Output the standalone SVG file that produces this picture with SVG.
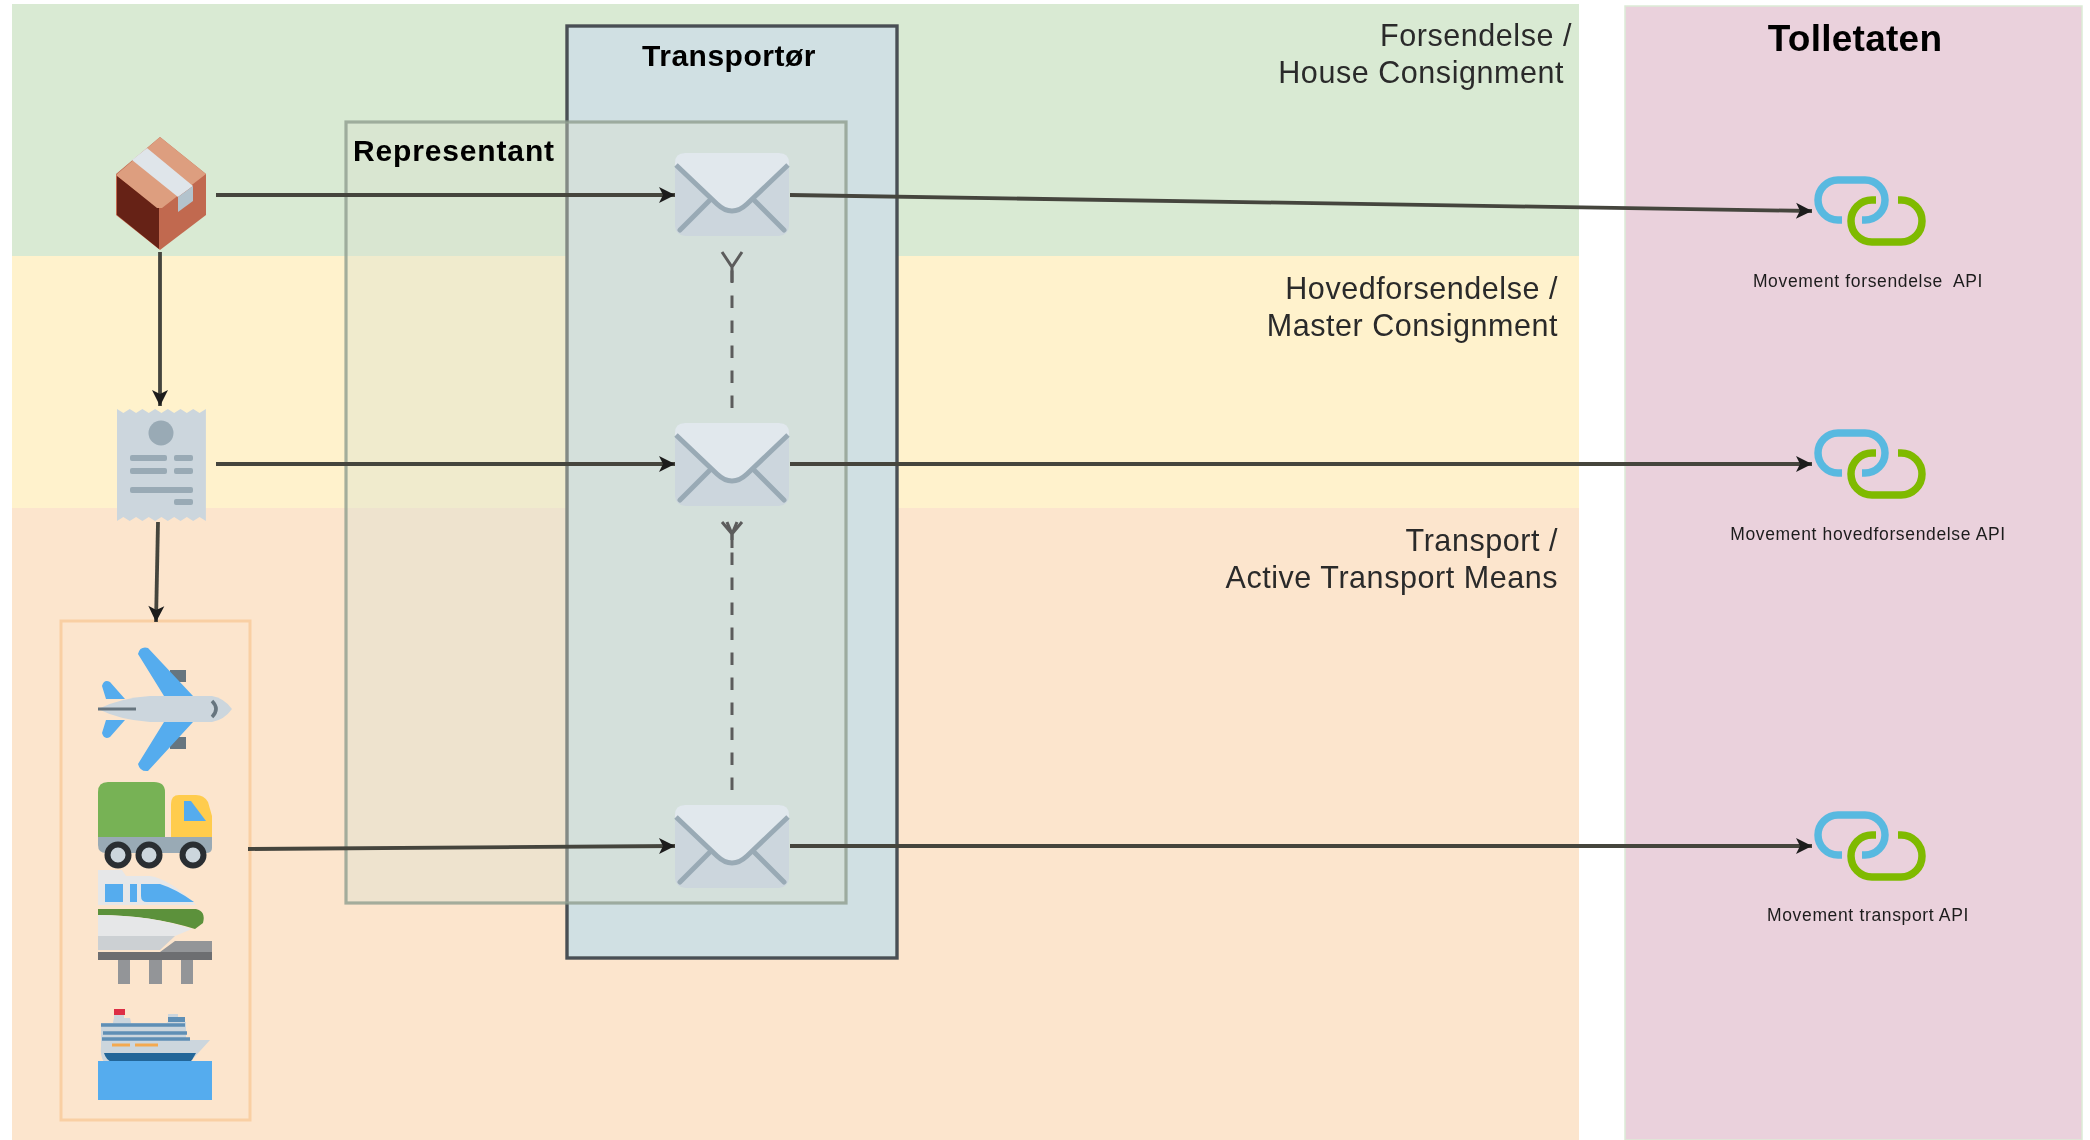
<svg xmlns="http://www.w3.org/2000/svg" width="2090" height="1140" viewBox="0 0 2090 1140">
<style>
text{font-family:"Liberation Sans",Arial,sans-serif;white-space:pre}
.lane{font-size:30.5px;fill:#2b2b2b;text-anchor:end;letter-spacing:.55px}
.api{font-size:17.5px;fill:#1c1c1c;text-anchor:middle;letter-spacing:.65px}
.bold{font-weight:bold;fill:#000}
.con{fill:none;stroke:#45453e;stroke-width:3.8}
.dash{fill:none;stroke:#5c5c5c;stroke-width:3;stroke-dasharray:12.5 12.5}
.open{fill:none;stroke:#5c5c5c;stroke-width:3}
</style>
<defs>
<filter id="soft" x="0" y="0" width="2090" height="1140" filterUnits="userSpaceOnUse"><feGaussianBlur stdDeviation="0.75"/></filter>
<marker id="arr" markerUnits="userSpaceOnUse" markerWidth="20" markerHeight="18" refX="17" refY="9" orient="auto"><path d="M1 1 L17 9 L1 17 L5 9Z" fill="#1c1c1c"/></marker>
<symbol id="env" width="114" height="84" viewBox="0 0 114 84" overflow="visible">
<rect x="0" y="0" width="114" height="83" rx="10" fill="#ccd6dd"/>
<path d="M0 10 Q0 0 10 0 H104 Q114 0 114 10 V13 L72 52 Q57 66 42 52 L0 13Z" fill="#e1e8ed"/>
<path d="M5 77 L34 48 M109 77 L80 48" stroke="#99aab5" stroke-width="5" fill="none" stroke-linecap="round"/>
<path d="M1 12 L42 51 Q57 65 72 51 L113 12" stroke="#99aab5" stroke-width="5" fill="none"/>
</symbol>
<symbol id="link" width="130" height="90" viewBox="1812 172 130 90" overflow="visible">
<path d="M1843 221 h-4 a20 20 0 0 1 0 -40 H1866 a20 20 0 0 1 0 40 h-3" fill="none" stroke="#59b9e0" stroke-width="7.5"/>
<path d="M1877 201 h-4 a21 21 0 0 0 0 42 H1902 a21 21 0 0 0 0 -42 h-3" fill="none" stroke="#7fba00" stroke-width="7.5"/>
</symbol>
</defs>
<rect width="2090" height="1140" fill="#fff"/>
<g filter="url(#soft)">
<g id="lanes">
<rect id="lane-forsendelse" x="12" y="4" width="1567" height="252" fill="#d9ead3"/>
<rect id="lane-hoved" x="12" y="256" width="1567" height="252" fill="#fff2cc"/>
<rect id="lane-transport" x="12" y="508" width="1567" height="632" fill="#fce5cd"/>
<rect id="tolletaten" x="1625" y="6" width="457" height="1134" fill="#ead1dc" stroke="#dcebd6" stroke-width="1.5"/>
</g>
<g id="transportor"><rect x="567" y="26" width="330" height="932" fill="#d0e0e3" stroke="#4a5054" stroke-width="3.4"/></g>
<g id="representant"><rect x="346" y="122" width="500" height="781" fill="#d9e2cf" fill-opacity=".4" stroke="#8e9e8e" stroke-opacity=".8" stroke-width="3.2"/></g>
<g id="vehicles-box"><rect x="61" y="621" width="189" height="499" fill="none" stroke="#f9cfa3" stroke-width="3"/></g>

<g id="connectors">
<path class="con" marker-end="url(#arr)" d="M216 195H675"/>
<path class="con" marker-end="url(#arr)" d="M160 252V406"/>
<path class="con" marker-end="url(#arr)" d="M216 464H675"/>
<path class="con" marker-end="url(#arr)" d="M158 522L156 622"/>
<path class="con" marker-end="url(#arr)" d="M248 849L675 846"/>
<path class="con" marker-end="url(#arr)" d="M790 195L1812 211"/>
<path class="con" marker-end="url(#arr)" d="M790 464H1812"/>
<path class="con" marker-end="url(#arr)" d="M790 846H1812"/>
<path class="dash" d="M732 408V267"/>
<path class="open" d="M722 252L732 267L742 252M732 267V282"/>
<path class="dash" d="M732 790V530"/>
<path class="open" d="M722 522L732 534L742 522M727 522L732 534L737 522M732 534V548"/>
</g>

<g id="package">
<path d="M160 137L206 174V215L160 250L116 215V174Z" fill="#c1694f"/>
<path d="M117 176L159 208V249L117 215Z" fill="#662113"/>
<path d="M160 137L206 174L162 208H157L116 175Z" fill="#dd9e7f"/>
<path d="M132 160L147 148L193 186L178 197Z" fill="#dfe5ea"/>
<path d="M178 197L193 186V201L178 212Z" fill="#b3c3cd"/>
</g>
<g id="receipt">
<path d="M117 409l6.35 4 6.35-4 6.35 4 6.35-4 6.35 4 6.35-4 6.35 4 6.35-4 6.35 4 6.35-4 6.35 4 6.35-4 6.35 4 6.35-4V521l-6.35-4-6.35 4-6.35-4-6.35 4-6.35-4-6.35 4-6.35-4-6.35 4-6.35-4-6.35 4-6.35-4-6.35 4-6.35-4-6.35 4Z" fill="#ccd6dd"/>
<circle cx="161" cy="433" r="12.5" fill="#99aab5"/>
<g fill="#99aab5"><rect x="130" y="455" width="37" height="6" rx="2"/><rect x="174" y="455" width="19" height="6" rx="2"/><rect x="130" y="468" width="37" height="6" rx="2"/><rect x="174" y="468" width="19" height="6" rx="2"/><rect x="130" y="487" width="63" height="6" rx="2"/><rect x="174" y="499" width="19" height="6" rx="2"/></g>
</g>
<g id="plane">
<path d="M170 670H186V682H170Z M170 737H186V749H170Z" fill="#66757f"/>
<path d="M138 654Q140 646 148 648L193 696H164Z M138 764Q140 772 148 771L193 722H164Z" fill="#55acee"/>
<path d="M102 686Q104 679 110 682L125 699H106Z M102 733Q104 740 110 737L125 720H106Z" fill="#55acee"/>
<path d="M98 709Q120 698 150 696H212Q224 698 232 709Q224 720 212 722H150Q120 720 98 709Z" fill="#ccd6dd"/>
<path d="M98 709H136" stroke="#66757f" stroke-width="3"/>
<path d="M212 701Q220 709 212 717" stroke="#66757f" stroke-width="3.5" fill="none"/>
</g>
<g id="truck">
<path d="M98 837V792Q98 782 108 782H154Q165 782 165 792V837Z" fill="#77b255"/>
<path d="M171 837V804Q171 795 179 795H196Q204 795 208 802L212 816V837Z" fill="#ffcc4d"/>
<path d="M184 801H191L206 821H184Z" fill="#55acee"/>
<path d="M98 837H212V848Q212 853 206 853H106Q98 853 98 845Z" fill="#99aab5"/>
<g fill="#ccd6dd" stroke="#292f33" stroke-width="6"><circle cx="118" cy="855" r="10.5"/><circle cx="149" cy="855" r="10.5"/><circle cx="193" cy="855" r="10.5"/></g>
</g>
<g id="train" transform="translate(0 3)">
<path d="M98 867H122L126 873H150Q170 876 196 902H98Z" fill="#e6e7e8"/>
<path d="M105 881H123V899H105Z M130 881H137V899H130Z M141 881H160Q176 886 194 899H147Q141 899 141 893Z" fill="#55acee"/>
<path d="M98 906H196Q206 908 203 920L195 926Q150 912 98 912Z" fill="#5c913b"/>
<path d="M98 912Q150 912 192 926L175 933H98Z" fill="#e6e7e8"/>
<path d="M98 933H175L160 947H98Z" fill="#ccd0d3"/>
<path d="M98 949H160L175 938H212V957H98Z" fill="#939598"/>
<rect x="98" y="949" width="114" height="8" fill="#6d6e71"/>
<path d="M118 957H130V981H118Z M149 957H162V981H149Z M181 957H193V981H181Z" fill="#939598"/>
</g>
<g id="ship" transform="translate(0 6)">
<path d="M114 1007h10v5h6l2 9H112l2-9Z" fill="#ccd6dd"/><rect x="114" y="1003" width="11" height="6" fill="#dd2e44"/>
<path d="M160 1021l8-5v-8h10v8h8v6Z" fill="#ccd6dd"/>
<path d="M101 1017H186V1034L210 1034L190 1056H104Q100 1050 101 1040Z" fill="#ccd6dd"/>
<path d="M101 1019H185M103 1027H187M102 1033H190" stroke="#5f8fb5" stroke-width="3.5"/><rect x="168" y="1011" width="17" height="5" fill="#5f8fb5"/>
<path d="M112 1039H130M135 1039H158" stroke="#f4a94f" stroke-width="3"/>
<path d="M104 1047H196L192 1054Q190 1056 185 1056H112Q106 1054 104 1047Z" fill="#226699"/>
<rect x="98" y="1055" width="114" height="39" fill="#55acee"/>
</g>
<g id="msg-1"><use href="#env" x="675" y="153"/></g>
<g id="msg-2"><use href="#env" x="675" y="423"/></g>
<g id="msg-3"><use href="#env" x="675" y="805"/></g>
<g id="api-1"><use href="#link" x="1811" y="171"/><text class="api" x="1868" y="287">Movement forsendelse  API</text></g>
<g id="api-2"><use href="#link" x="1811" y="424"/><text class="api" x="1868" y="540">Movement hovedforsendelse API</text></g>
<g id="api-3"><use href="#link" x="1811" y="806"/><text class="api" x="1868" y="921">Movement transport API</text></g>
<g id="labels">
<text class="lane" x="1572" y="46">Forsendelse /</text>
<text class="lane" x="1564" y="83">House Consignment</text>
<text class="lane" x="1558" y="299">Hovedforsendelse /</text>
<text class="lane" x="1558" y="336">Master Consignment</text>
<text class="lane" x="1558" y="551">Transport /</text>
<text class="lane" x="1558" y="588">Active Transport Means</text>
<text class="bold" x="729" y="66" font-size="30" text-anchor="middle" letter-spacing=".5">Transportør</text>
<text class="bold" x="353" y="161" font-size="30" letter-spacing=".85">Representant</text>
<text class="bold" x="1855" y="51" font-size="37" text-anchor="middle" letter-spacing=".25">Tolletaten</text>
</g>
</g>
</svg>
